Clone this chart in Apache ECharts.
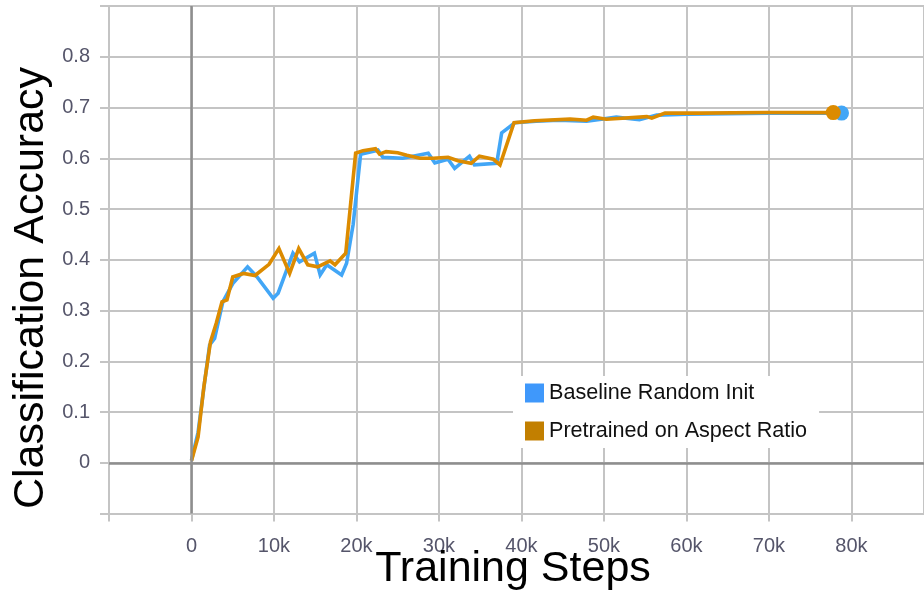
<!DOCTYPE html>
<html>
<head>
<meta charset="utf-8">
<script src="https://cdn.jsdelivr.net/npm/echarts@6/dist/echarts.min.js"></script>
<style>html,body{margin:0;padding:0;background:#fff}#c{width:924px;height:597px}</style>
</head>
<body>
<div id="c"></div>
<script>
const seriesNames = ['Baseline Random Init', 'Pretrained on Aspect Ratio'];
const baselineSteps = [0, 800, 1600, 2200, 2800, 3800, 5000, 6800, 7900, 9900, 10500, 12300, 13100, 14900, 15600, 16400, 18200, 18800, 19600, 20500, 22600, 23200, 25600, 28700, 29500, 31100, 31900, 33700, 34300, 37000, 37600, 39200, 41800, 44500, 47900, 51500, 54300, 56400, 60000, 65000, 70000, 78800];
const baselineAcc = [0.005, 0.06, 0.16, 0.232, 0.245, 0.317, 0.353, 0.386, 0.367, 0.324, 0.334, 0.413, 0.396, 0.413, 0.370, 0.390, 0.370, 0.393, 0.47, 0.608, 0.616, 0.602, 0.600, 0.610, 0.591, 0.598, 0.580, 0.604, 0.587, 0.590, 0.650, 0.670, 0.673, 0.675, 0.673, 0.681, 0.676, 0.685, 0.687, 0.688, 0.689, 0.689];
const pretrainedSteps = [0, 800, 1500, 2300, 3000, 3700, 4300, 5000, 6300, 7700, 9400, 10600, 11900, 13000, 14100, 15300, 16800, 17400, 18700, 19900, 20800, 22300, 22800, 23600, 25000, 26100, 27700, 29300, 31100, 32300, 33900, 34900, 36600, 37400, 39100, 41600, 45900, 47900, 48700, 50300, 55200, 55800, 57400, 61600, 69700, 77800];
const pretrainedAcc = [0.004, 0.051, 0.15, 0.238, 0.275, 0.317, 0.321, 0.366, 0.373, 0.369, 0.391, 0.422, 0.373, 0.422, 0.390, 0.386, 0.398, 0.390, 0.413, 0.610, 0.615, 0.619, 0.608, 0.613, 0.611, 0.606, 0.600, 0.600, 0.602, 0.595, 0.590, 0.604, 0.598, 0.587, 0.670, 0.674, 0.677, 0.675, 0.681, 0.677, 0.682, 0.679, 0.689, 0.689, 0.690, 0.690];
const xTitle = 'Training Steps';
const yTitle = 'Classification Accuracy';

const lineColors = ['#42a6f6', '#dc8b00'];
const legendColors = ['#3f98fb', '#c27f00'];
const gridColor = '#c4c4c4';
const zeroColor = '#8e8e8e';
const font = '"Liberation Sans", Arial, Helvetica, sans-serif';

function pairs(xs, ys) { return xs.map((x, i) => [x, ys[i]]); }

const chart = echarts.init(document.getElementById('c'), null, {renderer: 'canvas'});
function lineSeries(name, data, color, z) {
  const last = data.length - 1;
  return {
    name: name, type: 'line', data: data, z: z,
    symbol: 'circle', showSymbol: true, showAllSymbol: true,
    symbolSize: (v, p) => p.dataIndex === last ? 15 : 0,
    itemStyle: {color: color},
    lineStyle: {color: color, width: 3.6, join: 'miter'},
    emphasis: {disabled: true},
    silent: true
  };
}
chart.setOption({
  animation: false,
  backgroundColor: '#fff',
  grid: {left: 109, right: 0, top: 6, bottom: 83.5, containLabel: false},
  xAxis: {
    type: 'value', min: -10000, max: 88800, interval: 10000,
    axisLine: {show: true, onZero: false, lineStyle: {color: gridColor, width: 2}},
    axisTick: {show: true, length: 8, lineStyle: {color: gridColor, width: 2}},
    splitLine: {show: true, lineStyle: {color: gridColor, width: 2}},
    axisLabel: {
      margin: 23, color: '#55556a', fontSize: 20, fontFamily: font,
      showMaxLabel: false,
      formatter: v => (v < 0 || v > 80000) ? '' : (v === 0 ? '0' : (v / 1000) + 'k')
    }
  },
  yAxis: {
    type: 'value', min: -0.1, max: 0.9, interval: 0.1,
    axisLine: {show: true, onZero: false, lineStyle: {color: gridColor, width: 2}},
    axisTick: {show: true, length: 9, lineStyle: {color: gridColor, width: 2}},
    splitLine: {show: true, lineStyle: {color: gridColor, width: 2}},
    axisLabel: {
      margin: 19, color: '#55556a', fontSize: 20, fontFamily: font,
      formatter: v => (v < -0.01 || v > 0.85) ? '' : String(Math.round(v * 10) / 10)
    }
  },
  legend: {
    orient: 'vertical', left: 513, top: 376,
    padding: [6, 12, 6, 12],
    backgroundColor: '#ffffff',
    itemWidth: 19, itemHeight: 19, itemGap: 16,
    icon: 'rect',
    textStyle: {fontSize: 21.6, color: '#111', fontFamily: font, lineHeight: 21},
    data: seriesNames.map((n, i) => ({name: n, icon: 'rect', itemStyle: {color: legendColors[i]}})),
    selectedMode: false, z: 10
  },
  graphic: [
    {type: 'text', x: 513, y: 569, z: 10,
      style: {text: xTitle, font: '43px ' + font, fill: '#000', textAlign: 'center', textVerticalAlign: 'middle'}},
    {type: 'text', x: 31, y: 288, rotation: Math.PI / 2, z: 10,
      style: {text: yTitle, font: '43px ' + font, fill: '#000', textAlign: 'center', textVerticalAlign: 'middle'}}
  ],
  series: [
    {
      name: '__zero', type: 'line', data: [], z: 1, silent: true,
      markLine: {
        silent: true, symbol: ['none', 'none'], animation: false,
        label: {show: false},
        lineStyle: {color: zeroColor, width: 2.5, type: 'solid'},
        data: [{xAxis: 0}, {yAxis: 0}]
      }
    },
    lineSeries(seriesNames[0], pairs(baselineSteps, baselineAcc), lineColors[0], 3),
    lineSeries(seriesNames[1], pairs(pretrainedSteps, pretrainedAcc), lineColors[1], 4)
  ]
});
</script>
</body>
</html>
